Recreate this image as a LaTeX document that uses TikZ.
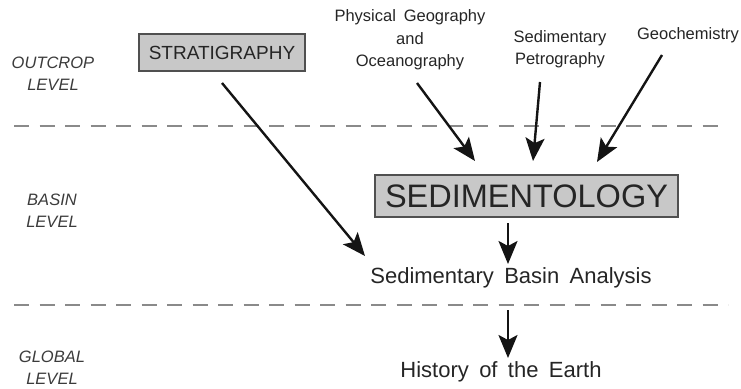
\documentclass[tikz,border=0pt]{standalone}
\usepackage{fontspec}
\setmainfont{Liberation Sans}
\newfontfamily\wsf[WordSpace=1.7]{Liberation Sans}
\usetikzlibrary{arrows.meta}
\definecolor{txt}{HTML}{252525}
\definecolor{boxfill}{HTML}{C8C8C8}
\definecolor{boxline}{HTML}{505050}
\definecolor{dashc}{HTML}{8A8A8A}
\tikzset{
  level/.style={font=\fontsize{16.5}{22}\selectfont\itshape, text=txt!90, align=center, inner sep=0pt},
  disc/.style={font=\wsf\fontsize{16.5}{22.5}\selectfont, text=txt, align=center, inner sep=0pt},
  mainbox/.style={draw=boxline, line width=1.3pt, fill=boxfill, text=txt, inner sep=0pt},
  res/.style={font=\wsf\fontsize{22}{26}\selectfont, text=txt, inner sep=0pt},
  arr/.style={-{Stealth[length=23pt,width=19pt,inset=5pt]}, line width=2.4pt, black!92},
  sep/.style={dashc, line width=1.8pt, dash pattern=on 15pt off 10.5pt}
}
\begin{document}
\begin{tikzpicture}[x=1pt,y=-1pt]
\useasboundingbox (0,0) rectangle (741,388);
% separators
\coordinate (s1a) at (14,126); \coordinate (s1b) at (720,126);
\coordinate (s2a) at (14,305); \coordinate (s2b) at (728,305);
\draw[sep] (s1a) -- (s1b);
\draw[sep] (s2a) -- (s2b);
% level labels
\node[level] (outcrop) at (53,74) {OUTCROP\\LEVEL};
\node[level] (basin) at (52,211) {BASIN\\LEVEL};
\node[level] (global) at (52,368) {GLOBAL\\LEVEL};
% boxes
\node[mainbox, minimum width=166pt, minimum height=37pt, font=\fontsize{19}{22}\selectfont] (strat) at (222,52.5) {STRATIGRAPHY};
\node[mainbox, minimum width=303pt, minimum height=42pt, font=\fontsize{32.5}{36}\selectfont] (sedi) at (526.5,196) {SEDIMENTOLOGY};
% disciplines
\node[disc] (pgo) at (410,40) {Physical Geography\\and\\Oceanography};
\node[disc] (sp) at (560,49) {Sedimentary\\Petrography};
\node[disc] (geo) at (688,35) {Geochemistry};
% results
\node[res] (sba) at (511,278) {Sedimentary Basin Analysis};
\node[res] (hist) at (501,372) {History of the Earth};
% arrow ends
\coordinate (pgoS) at (417,83); \coordinate (pgoE) at (475,161);
\coordinate (spS) at (540,82); \coordinate (spE) at (533,161);
\coordinate (geoS) at (662,55); \coordinate (geoE) at (597,162);
\coordinate (stS) at (222,83); \coordinate (stE) at (365,256);
\coordinate (seS) at (508,223); \coordinate (seE) at (508,264);
\coordinate (sbS) at (508,310); \coordinate (sbE) at (508,358);
\draw[arr] (pgoS) -- (pgoE);
\draw[arr] (spS) -- (spE);
\draw[arr] (geoS) -- (geoE);
\draw[arr] (stS) -- (stE);
\draw[arr] (seS) -- (seE);
\draw[arr] (sbS) -- (sbE);
\end{tikzpicture}
\end{document}
